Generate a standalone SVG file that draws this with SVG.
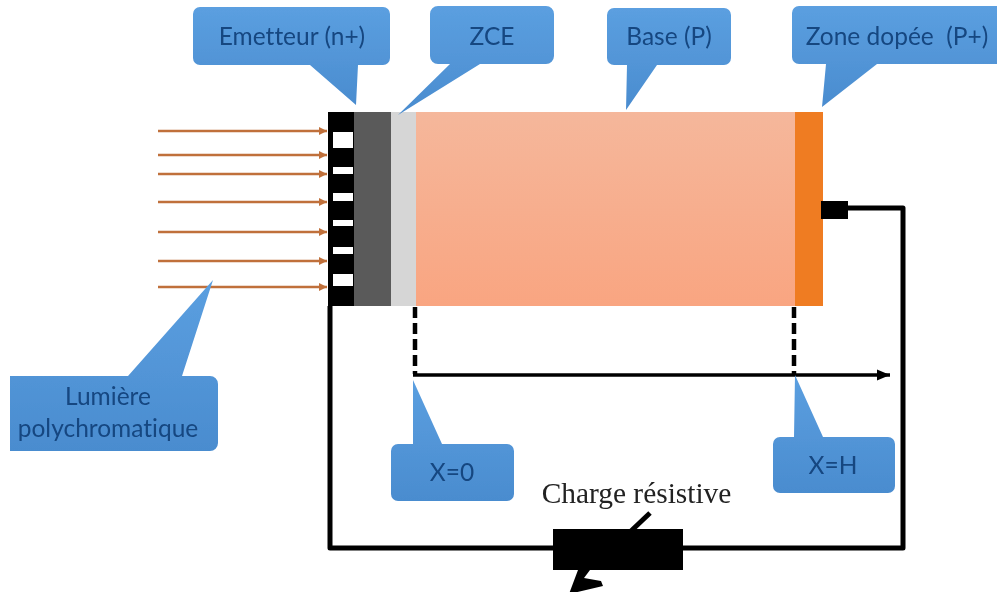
<svg xmlns="http://www.w3.org/2000/svg" width="997" height="592" viewBox="0 0 997 592">
<style>
.call{fill:url(#cb)}
.lbl{font-family:"Lato","Open Sans",sans-serif;font-size:24.5px;fill:#154680;text-anchor:middle;font-variant-ligatures:none}
.ray{stroke:#c0703a;stroke-width:2.5;fill:none;marker-end:url(#ra)}
.wire{stroke:#000;stroke-width:5;fill:none;stroke-linejoin:round}
.dash{stroke:#000;stroke-width:4.5;fill:none;stroke-dasharray:11 5}
.win{fill:#fff}
</style>
<defs>
<linearGradient id="cb" x1="0" y1="0" x2="0" y2="1"><stop offset="0" stop-color="#5b9fe0"/><stop offset="1" stop-color="#4a8ccf"/></linearGradient>
<linearGradient id="bg" x1="0" y1="0" x2="0" y2="1"><stop offset="0" stop-color="#f5b79b"/><stop offset="1" stop-color="#f9a581"/></linearGradient>
<marker id="ra" markerUnits="userSpaceOnUse" markerWidth="9" markerHeight="10" refX="8" refY="5" orient="auto"><path d="M0 1L8 5L0 9Z" fill="#c0703a"/></marker>
<marker id="ax" markerUnits="userSpaceOnUse" markerWidth="14" markerHeight="12" refX="13" refY="6" orient="auto"><path d="M0 0.5L13 6L0 11.5Z" fill="#000"/></marker>
<filter id="soft" x="0" y="0" width="1" height="1"><feGaussianBlur stdDeviation="0.6"/></filter>
</defs>
<rect width="997" height="592" fill="#fff"/>
<g filter="url(#soft)">
<g id="cell">
<rect x="328" y="112" width="27" height="194" fill="#000"/>
<rect x="354" y="112" width="37" height="194" fill="#5a5a5a"/>
<rect x="391" y="112" width="25" height="194" fill="#d6d6d6"/>
<rect x="416" y="112" width="379" height="194" fill="url(#bg)"/>
<rect x="795" y="112" width="28" height="194" fill="#ef7b22"/>
<rect class="win" x="333" y="132" width="20" height="16"/>
<rect class="win" x="333" y="167" width="20" height="7"/>
<rect class="win" x="333" y="193" width="20" height="8"/>
<rect class="win" x="333" y="220" width="20" height="6"/>
<rect class="win" x="333" y="247" width="20" height="7"/>
<rect class="win" x="333" y="274" width="20" height="12"/>
</g>
<g id="connectors">
<path class="ray" d="M158 131H327"/>
<path class="ray" d="M158 155H327"/>
<path class="ray" d="M158 174H327"/>
<path class="ray" d="M158 202H327"/>
<path class="ray" d="M158 232H327"/>
<path class="ray" d="M158 261H327"/>
<path class="ray" d="M158 287H327"/>
<path class="wire" d="M330 306V548H903V208H848"/>
<path class="dash" d="M415 307V374"/>
<path class="dash" d="M794 307V374"/>
<path d="M413 375H890" stroke="#000" stroke-width="3.5" fill="none" marker-end="url(#ax)"/>
<path d="M650 513L631 531" stroke="#000" stroke-width="5" fill="none"/>
<path d="M569 594L578 570H590L584 578L601 581L603 586Z" fill="#000"/>
</g>
<g id="contact"><rect x="821" y="201" width="27" height="18" fill="#000"/></g>
<g id="resistor"><rect x="553" y="529" width="130" height="41" fill="#000"/></g>
<g id="emetteur">
<path class="call" d="M200 7H383a7 7 0 0 1 7 7V58a7 7 0 0 1-7 7H358L356 105L310 65H200a7 7 0 0 1-7-7V14a7 7 0 0 1 7-7Z"/>
<text class="lbl" x="292" y="45">Emetteur (n+)</text>
</g>
<g id="zce">
<path class="call" d="M438 6H546a8 8 0 0 1 8 8V56a8 8 0 0 1-8 8H480L398 115L450 64H438a8 8 0 0 1-8-8V14a8 8 0 0 1 8-8Z"/>
<text class="lbl" x="492" y="45">ZCE</text>
</g>
<g id="base">
<path class="call" d="M614 8H724a7 7 0 0 1 7 7V58a7 7 0 0 1-7 7H657L626 110L627 65H614a7 7 0 0 1-7-7V15a7 7 0 0 1 7-7Z"/>
<text class="lbl" x="669" y="45">Base (P)</text>
</g>
<g id="zone">
<path class="call" d="M799 6H997V64H877L822 107L826 64H799a7 7 0 0 1-7-7V13a7 7 0 0 1 7-7Z"/>
<text class="lbl" x="897" y="45" xml:space="preserve">Zone dopée  (P+)</text>
</g>
<g id="lumiere">
<path class="call" d="M10 376H128L213 280L182 376H210a8 8 0 0 1 8 8V443a8 8 0 0 1-8 8H10Z"/>
<text class="lbl" x="108" y="405">Lumière</text>
<text class="lbl" x="108" y="437">polychromatique</text>
</g>
<g id="x0">
<path class="call" d="M398 444H413V380L442 444H507a7 7 0 0 1 7 7V494a7 7 0 0 1-7 7H398a7 7 0 0 1-7-7V451a7 7 0 0 1 7-7Z"/>
<text class="lbl" x="452" y="481">X=0</text>
</g>
<g id="xh">
<path class="call" d="M780 437H794L795 375L823 437H888a7 7 0 0 1 7 7V486a7 7 0 0 1-7 7H780a7 7 0 0 1-7-7V444a7 7 0 0 1 7-7Z"/>
<text class="lbl" x="833" y="474">X=H</text>
</g>
<g id="charge"><text x="636.5" y="503" font-family="Liberation Serif,serif" font-size="29.4" fill="#222" text-anchor="middle">Charge résistive</text></g>
</g>
</svg>
